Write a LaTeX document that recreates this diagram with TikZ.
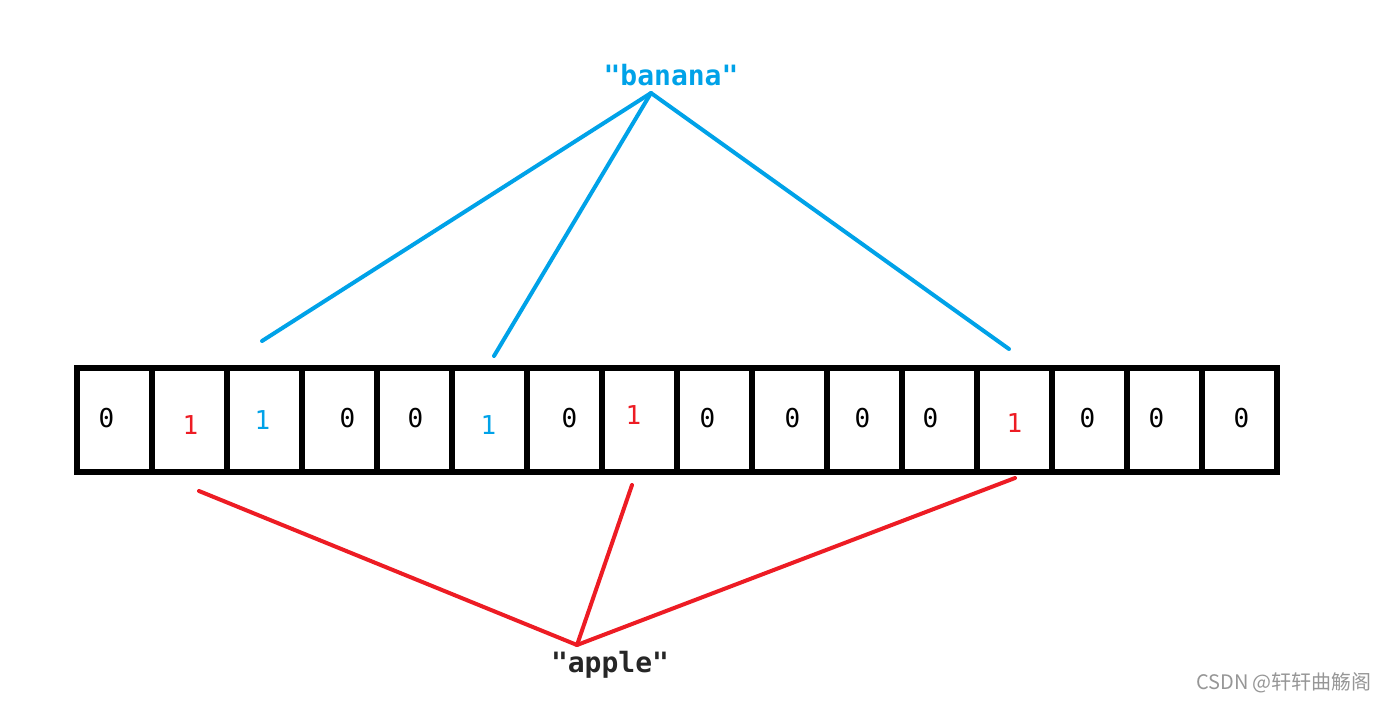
\documentclass[tikz,border=0pt]{standalone}
\usepackage{fontspec}
\usepackage{xcolor}
\usetikzlibrary{positioning}
\newfontfamily\bitfont{DejaVu Sans Mono}
\newfontfamily\cjkfont{Noto Sans CJK SC}
\definecolor{hashblue}{RGB}{0,162,232}
\definecolor{hashred}{RGB}{237,28,36}
\definecolor{markgray}{RGB}{150,150,150}
\tikzset{
    bits/.style={x=1pt, y=-1pt},
    bit cell/.style={draw, line width=5.5pt, minimum width=75pt,
        minimum height=104pt, inner sep=0pt},
    bit digit/.style={font=\bitfont\fontsize{26}{26}\selectfont, inner sep=0pt},
    key label/.style={font=\bitfont\bfseries\fontsize{28}{30}\selectfont, inner sep=0pt},
    hash line/.style={line width=4pt, line cap=round},
    mark label/.style={font=\cjkfont\fontsize{20}{20}\selectfont, text=markgray, inner sep=0pt},
}
\begin{document}
\begin{tikzpicture}[bits]
    \useasboundingbox (0,0) rectangle (1384,702);

    % Bit array
    \foreach \i in {0,...,15}
        \node[bit cell] (cell\i) at (114.5+75*\i, 420) {};
    \foreach \i/\d/\c/\dx/\dy in {0/0/black/-8/-2, 1/1/hashred/1/5, 2/1/hashblue/-2/0,
            3/0/black/8/-2, 4/0/black/1/-2, 5/1/hashblue/-1/5, 6/0/black/5/-2,
            7/1/hashred/-6/-5, 8/0/black/-7/-2, 9/0/black/3/-2, 10/0/black/-2/-2,
            11/0/black/-9/-2, 12/1/hashred/0/3, 13/0/black/-2/-2, 14/0/black/-8/-2,
            15/0/black/2/-2}
        \node[bit digit, text=\c] (digit\i) at ([shift={(\dx,\dy)}]cell\i.center) {\d};

    % Keys
    \node[key label, text=hashblue] (banana) at (671,75) {"banana"};
    \node[key label, text=black!85] (apple) at (610,665) {"apple"};
    \coordinate (banana tip) at (651,93);
    \coordinate (apple tip) at (577,645);

    % Hash ends
    \coordinate (banana end1) at (262,341);
    \coordinate (banana end2) at (494,356);
    \coordinate (banana end3) at (1009,349);
    \coordinate (apple end1) at (199,491);
    \coordinate (apple end2) at (632,485);
    \coordinate (apple end3) at (1015,478);

    % Lines
    \foreach \k in {1,2,3} {
        \draw[hash line, hashblue] (banana tip) -- (banana end\k);
        \draw[hash line, hashred] (apple tip) -- (apple end\k);
    }

    \node[mark label] (watermark) at (1284,683) {CSDN @轩轩曲觞阁};
\end{tikzpicture}
\end{document}
